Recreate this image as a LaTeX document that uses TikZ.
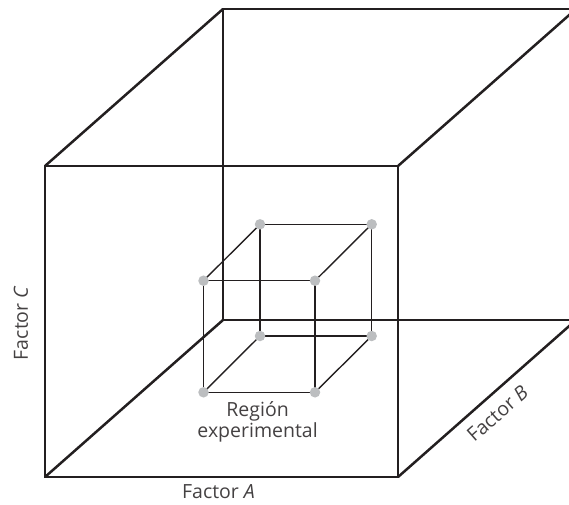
\documentclass[tikz,border=0pt]{standalone}
\usepackage{fontspec}
\setmainfont{Open Sans}
\definecolor{ink}{HTML}{231F20}
\definecolor{dotgray}{HTML}{BCBEC0}
\begin{document}
\begin{tikzpicture}[x=1pt,y=-1pt,
  outer/.style={draw=ink,line width=2.5pt,line join=miter},
  inner/.style={draw=ink,line width=1.4pt},
  corner/.style={circle,fill=dotgray,inner sep=0pt,minimum size=10.5pt},
  lab/.style={font=\fontsize{19.5}{21}\selectfont,text=ink!85,inner sep=0pt,align=center}]
\useasboundingbox (0,0) rectangle (569,504);
\clip (0,0) rectangle (569,504);
% outer cube
\coordinate (F1) at (45,166);
\coordinate (F2) at (398,166);
\coordinate (F3) at (398,477);
\coordinate (F4) at (45,477);
\coordinate (B1) at (223,9);
\coordinate (B2) at (576,9);
\coordinate (B3) at (576,320);
\coordinate (B4) at (223,320);
\draw[outer] (B1) -- (B2) -- (B3) -- (B4) -- cycle;
\draw[outer] (F1) -- (B1) (F2) -- (B2) (F3) -- (B3) (F4) -- (B4);
\draw[outer] (F1) -- (F2) -- (F3) -- (F4) -- cycle;
% inner cube
\coordinate (f1) at (203.5,280.7);
\coordinate (f2) at (315,280.7);
\coordinate (f3) at (315,392.3);
\coordinate (f4) at (203.5,392.3);
\coordinate (b1) at (260,224.3);
\coordinate (b2) at (371.7,224.3);
\coordinate (b3) at (371.7,336);
\coordinate (b4) at (260,336);
\draw[inner] (b1) -- (b2) -- (b3) -- (b4) -- cycle;
\draw[inner] (f1) -- (b1) (f2) -- (b2) (f3) -- (b3) (f4) -- (b4);
\draw[inner] (f1) -- (f2) -- (f3) -- (f4) -- cycle;
\foreach \p in {f1,f2,f3,f4,b1,b2,b3,b4} \node[corner] (d\p) at (\p) {};
% labels
\node[lab] (reg) at (257.6,422) {Región\\experimental};
\node[lab] (fa) at (218.5,492) {Factor \textit{A}};
\node[lab,rotate=90] (fc) at (21,323) {Factor \textit{C}};
\node[lab,rotate=41.4] (fb) at (497.5,413.5) {Factor \textit{B}};
\end{tikzpicture}
\end{document}
